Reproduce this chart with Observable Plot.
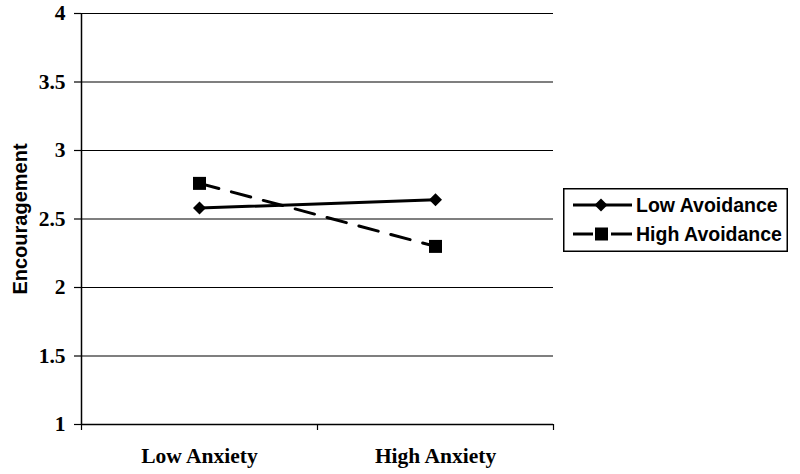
<!DOCTYPE html>
<html>
<head>
<meta charset="utf-8">
<script src="https://cdn.jsdelivr.net/npm/d3@7"></script>
<script src="https://cdn.jsdelivr.net/npm/@observablehq/plot@0.6"></script>
<style>
  html, body { margin: 0; padding: 0; background: #fff; }
  #wrap { position: relative; width: 800px; height: 474px; }
  #legend { position: absolute; left: 563px; top: 188px; }
  .legText { font-family: 'Liberation Sans', Arial, sans-serif; font-size: 19.5px; font-weight: bold; }
</style>
</head>
<body>
<div id="wrap"><div id="chart"></div><div id="legend"></div></div>
<script>
const categories = ["Low Anxiety", "High Anxiety"];
const seriesNames = ["Low Avoidance", "High Avoidance"];
const lowAvoidance = [2.58, 2.64];
const highAvoidance = [2.76, 2.30];
const yTicks = [1, 1.5, 2, 2.5, 3, 3.5, 4];
const yLabel = "Encouragement";

const seriesValues = [lowAvoidance, highAvoidance];
const rows = [];
seriesNames.forEach((s, si) => {
  categories.forEach((c, ci) => rows.push({series: s, cat: c, pos: ci + 0.5, value: seriesValues[si][ci]}));
});

const diamond = {draw(ctx, size) { const h = Math.sqrt(size / Math.PI); ctx.moveTo(0, -h); ctx.lineTo(h, 0); ctx.lineTo(0, h); ctx.lineTo(-h, 0); ctx.closePath(); }};
const square = {draw(ctx, size) { const h = Math.sqrt(size / Math.PI); ctx.rect(-h, -h, 2 * h, 2 * h); }};

const serif = "'Liberation Serif', 'Times New Roman', serif";
const sans = "'Liberation Sans', Arial, sans-serif";

const chart = Plot.plot({
  width: 800,
  height: 474,
  marginLeft: 81,
  marginRight: 247,
  marginTop: 13,
  marginBottom: 50,
  style: {background: "#fff", color: "#000", overflow: "visible"},
  x: {type: "linear", domain: [0, categories.length]},
  y: {domain: [1, 4]},
  marks: [
    Plot.gridY(yTicks, {stroke: "#000", strokeOpacity: 1, strokeWidth: 1.2}),
    Plot.ruleX([0], {stroke: "#000", strokeWidth: 1.5}),
    Plot.ruleY([1], {stroke: "#000", strokeWidth: 1.5}),
    Plot.axisY({ticks: yTicks, tickSize: 7, tickPadding: 9, tickFormat: d => String(d), label: null,
      fontFamily: serif, fontSize: 21.5, fontWeight: "bold", strokeWidth: 1.2}),
    Plot.axisX({ticks: d3.range(categories.length + 1), tickSize: 6, tickFormat: () => "", label: null, strokeWidth: 1.2}),
    Plot.axisX({ticks: categories.map((c, i) => i + 0.5), tickSize: 0, tickPadding: 23,
      tickFormat: d => categories[Math.floor(d)], label: null,
      fontFamily: serif, fontSize: 21.5, fontWeight: "bold"}),
    Plot.text([yLabel], {frameAnchor: "left", textAnchor: "middle", rotate: -90, dx: -60.5, text: d => d,
      ariaLabel: "ylabel", fontFamily: sans, fontSize: 20, fontWeight: "bold", fill: "#000"}),
    Plot.line(rows.filter(d => d.series === seriesNames[0]), {x: "pos", y: "value", stroke: "#000", strokeWidth: 3}),
    Plot.line(rows.filter(d => d.series === seriesNames[1]), {x: "pos", y: "value", stroke: "#000", strokeWidth: 3, strokeDasharray: "20,13"}),
    Plot.dot(rows.filter(d => d.series === seriesNames[0]), {x: "pos", y: "value", symbol: diamond, r: 6.5, fill: "#000", stroke: "none"}),
    Plot.dot(rows.filter(d => d.series === seriesNames[1]), {x: "pos", y: "value", symbol: square, r: 6.5, fill: "#000", stroke: "none"})
  ]
});
document.getElementById("chart").appendChild(chart);
d3.select(chart).selectAll('g[aria-label="y-axis tick label"] text, g[aria-label="x-axis tick label"] text')
  .style("font-family", serif).style("font-size", "21.5px").style("font-weight", "bold");
d3.select(chart).selectAll('g[aria-label="ylabel"] text')
  .style("font-family", sans).style("font-size", "20px").style("font-weight", "bold").attr("text-anchor", "middle");

// Legend
const lw = 225, lh = 64;
const leg = d3.select("#legend").append("svg").attr("width", lw).attr("height", lh);
leg.append("rect").attr("x", 0.75).attr("y", 0.75).attr("width", lw - 1.5).attr("height", lh - 1.5)
  .attr("fill", "#fff").attr("stroke", "#000").attr("stroke-width", 1.5);
seriesNames.forEach((s, i) => {
  const y = 17 + i * 29;
  const g = leg.append("g");
  if (i === 0) {
    g.append("line").attr("x1", 10).attr("x2", 69).attr("y1", y).attr("y2", y).attr("stroke", "#000").attr("stroke-width", 3);
    const h = 6.5;
    g.append("path").attr("d", `M38,${y - h}L${38 + h},${y}L38,${y + h}L${38 - h},${y}Z`).attr("fill", "#000");
  } else {
    g.append("line").attr("x1", 10).attr("x2", 30).attr("y1", y).attr("y2", y).attr("stroke", "#000").attr("stroke-width", 3);
    g.append("line").attr("x1", 48).attr("x2", 69).attr("y1", y).attr("y2", y).attr("stroke", "#000").attr("stroke-width", 3);
    g.append("rect").attr("x", 32).attr("y", y - 6.5).attr("width", 13).attr("height", 13).attr("fill", "#000");
  }
  g.append("text").attr("class", "legText").attr("x", 73).attr("y", y).attr("dy", "0.36em").text(s).attr("fill", "#000");
});
</script>
</body>
</html>
